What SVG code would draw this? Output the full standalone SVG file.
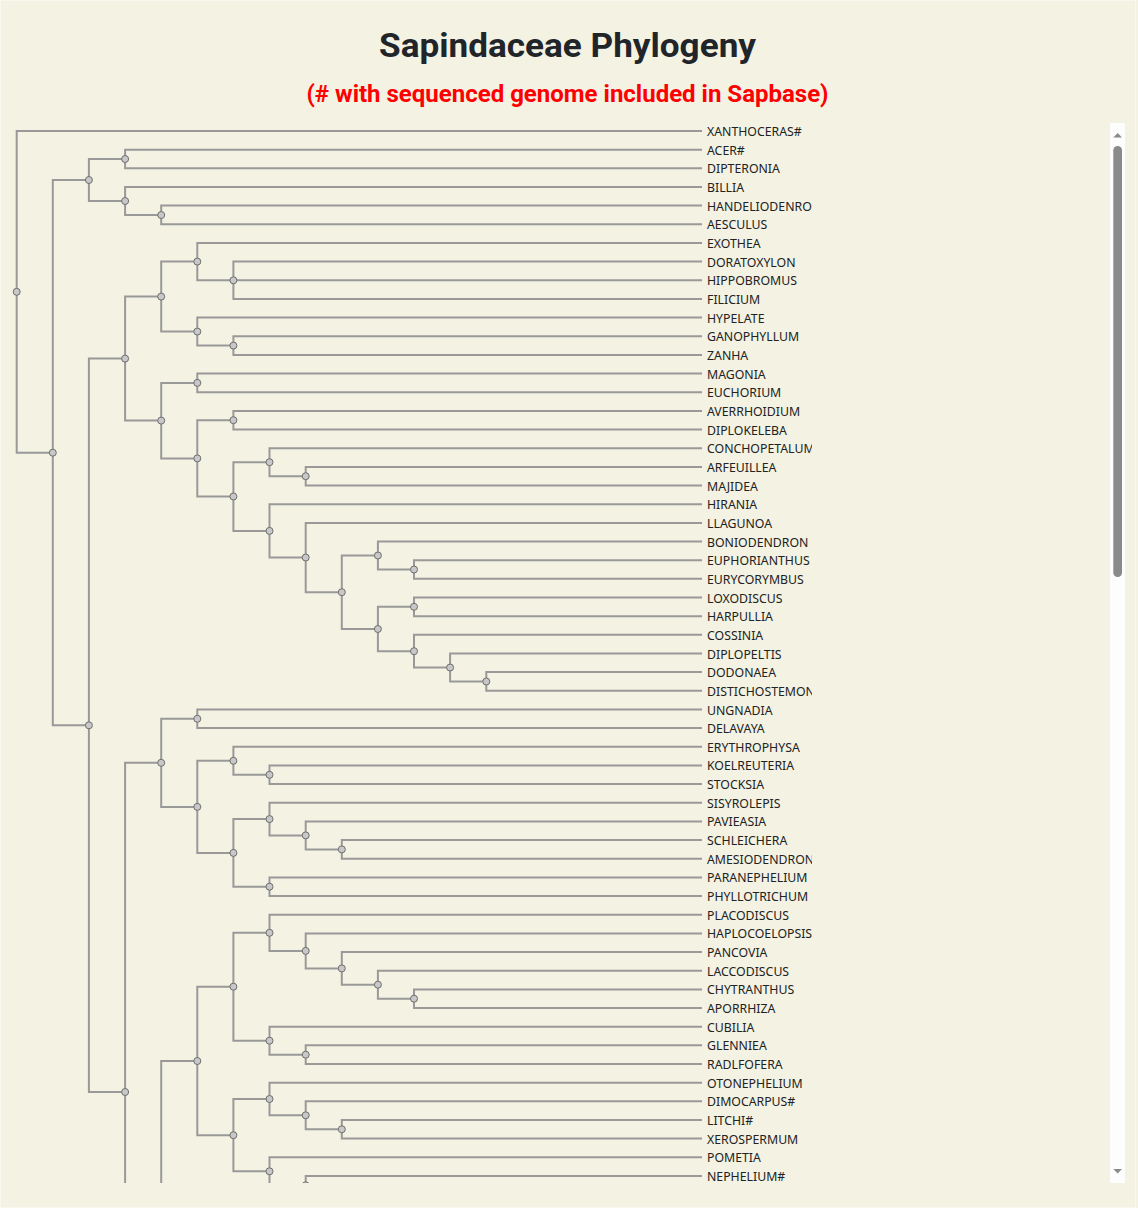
<svg xmlns="http://www.w3.org/2000/svg" width="1138" height="1208" viewBox="0 0 1138 1208">
<style>
.bg{fill:#f3f2e3}
.title{font-family:Roboto,"Liberation Sans",sans-serif;font-weight:700;font-size:34px;fill:#212529;text-anchor:middle}
.sub{font-family:Roboto,"Liberation Sans",sans-serif;font-weight:700;font-size:24px;fill:#ff0000;text-anchor:middle}
.lf{font-family:"Noto Sans","Open Sans","DejaVu Sans",sans-serif;font-size:12.3px;fill:#222}
.ln{fill:none;stroke:#999;stroke-width:2}
.nd{fill:#c8c8c8;stroke:#6e6e6e;stroke-width:1}
</style>
<defs>
<clipPath id="view"><rect x="0" y="122" width="812" height="1061"/></clipPath>
</defs>
<rect class="bg" x="0" y="0" width="1138" height="1208"/>
<rect x="0.5" y="0.5" width="1135" height="1207" fill="none" stroke="#f8f8ef" stroke-width="1"/>
<text class="title" x="567.5" y="57" textLength="377" lengthAdjust="spacingAndGlyphs">Sapindaceae Phylogeny</text>
<text class="sub" x="567.5" y="101.5">(# with sequenced genome included in Sapbase)</text>

<g clip-path="url(#view)">
<g id="connectors" class="ln">
<path d="M16.7,291.8 V131 H702"/>
<path d="M16.7,291.8 V452.7 H52.8"/>
<path d="M52.8,452.7 V180 H88.9"/>
<path d="M52.8,452.7 V725.3 H88.9"/>
<path d="M88.9,180 V159 H125.1"/>
<path d="M88.9,180 V201 H125.1"/>
<path d="M125.1,159 V149.7 H702"/>
<path d="M125.1,159 V168.3 H702"/>
<path d="M125.1,201 V187 H702"/>
<path d="M125.1,201 V215 H161.2"/>
<path d="M161.2,215 V205.6 H702"/>
<path d="M161.2,215 V224.3 H702"/>
<path d="M88.9,725.3 V358.6 H125.1"/>
<path d="M88.9,725.3 V1092 H125.1"/>
<path d="M125.1,358.6 V296.6 H161.2"/>
<path d="M125.1,358.6 V420.6 H161.2"/>
<path d="M161.2,296.6 V261.6 H197.3"/>
<path d="M161.2,296.6 V331.6 H197.3"/>
<path d="M197.3,261.6 V243 H702"/>
<path d="M197.3,261.6 V280.3 H233.4"/>
<path d="M233.4,280.3 V261.6 H702"/>
<path d="M233.4,280.3 H702"/>
<path d="M233.4,280.3 V298.9 H702"/>
<path d="M197.3,331.6 V317.6 H702"/>
<path d="M197.3,331.6 V345.6 H233.4"/>
<path d="M233.4,345.6 V336.3 H702"/>
<path d="M233.4,345.6 V354.9 H702"/>
<path d="M161.2,420.6 V382.9 H197.3"/>
<path d="M161.2,420.6 V458.4 H197.3"/>
<path d="M197.3,382.9 V373.6 H702"/>
<path d="M197.3,382.9 V392.2 H702"/>
<path d="M197.3,458.4 V420.2 H233.4"/>
<path d="M197.3,458.4 V496.5 H233.4"/>
<path d="M233.4,420.2 V410.9 H702"/>
<path d="M233.4,420.2 V429.6 H702"/>
<path d="M233.4,496.5 V462.2 H269.5"/>
<path d="M233.4,496.5 V530.9 H269.5"/>
<path d="M269.5,462.2 V448.2 H702"/>
<path d="M269.5,462.2 V476.2 H305.7"/>
<path d="M305.7,476.2 V466.9 H702"/>
<path d="M305.7,476.2 V485.5 H702"/>
<path d="M269.5,530.9 V504.2 H702"/>
<path d="M269.5,530.9 V557.5 H305.7"/>
<path d="M305.7,557.5 V522.9 H702"/>
<path d="M305.7,557.5 V592.2 H341.8"/>
<path d="M341.8,592.2 V555.5 H377.9"/>
<path d="M341.8,592.2 V629 H377.9"/>
<path d="M377.9,555.5 V541.5 H702"/>
<path d="M377.9,555.5 V569.5 H414"/>
<path d="M414,569.5 V560.2 H702"/>
<path d="M414,569.5 V578.8 H702"/>
<path d="M377.9,629 V606.8 H414"/>
<path d="M377.9,629 V651.2 H414"/>
<path d="M414,606.8 V597.5 H702"/>
<path d="M414,606.8 V616.2 H702"/>
<path d="M414,651.2 V634.8 H702"/>
<path d="M414,651.2 V667.5 H450.1"/>
<path d="M450.1,667.5 V653.5 H702"/>
<path d="M450.1,667.5 V681.5 H486.3"/>
<path d="M486.3,681.5 V672.1 H702"/>
<path d="M486.3,681.5 V690.8 H702"/>
<path d="M125.1,1092 V762.8 H161.2"/>
<path d="M125.1,1092 V1421.2 H161.2"/>
<path d="M161.2,762.8 V718.8 H197.3"/>
<path d="M161.2,762.8 V806.9 H197.3"/>
<path d="M197.3,718.8 V709.5 H702"/>
<path d="M197.3,718.8 V728.1 H702"/>
<path d="M197.3,806.9 V760.8 H233.4"/>
<path d="M197.3,806.9 V852.9 H233.4"/>
<path d="M233.4,760.8 V746.8 H702"/>
<path d="M233.4,760.8 V774.8 H269.5"/>
<path d="M269.5,774.8 V765.4 H702"/>
<path d="M269.5,774.8 V784.1 H702"/>
<path d="M233.4,852.9 V819.1 H269.5"/>
<path d="M233.4,852.9 V886.7 H269.5"/>
<path d="M269.5,819.1 V802.8 H702"/>
<path d="M269.5,819.1 V835.4 H305.7"/>
<path d="M305.7,835.4 V821.4 H702"/>
<path d="M305.7,835.4 V849.4 H341.8"/>
<path d="M341.8,849.4 V840.1 H702"/>
<path d="M341.8,849.4 V858.7 H702"/>
<path d="M269.5,886.7 V877.4 H702"/>
<path d="M269.5,886.7 V896.1 H702"/>
<path d="M161.2,1421.2 V1061 H197.3"/>
<path d="M161.2,1421.2 V1600"/>
<path d="M197.3,1061 V986.7 H233.4"/>
<path d="M197.3,1061 V1135.2 H233.4"/>
<path d="M233.4,986.7 V932.8 H269.5"/>
<path d="M233.4,986.7 V1040.7 H269.5"/>
<path d="M269.5,932.8 V914.7 H702"/>
<path d="M269.5,932.8 V950.9 H305.7"/>
<path d="M305.7,950.9 V933.4 H702"/>
<path d="M305.7,950.9 V968.4 H341.8"/>
<path d="M341.8,968.4 V952 H702"/>
<path d="M341.8,968.4 V984.7 H377.9"/>
<path d="M377.9,984.7 V970.7 H702"/>
<path d="M377.9,984.7 V998.7 H414"/>
<path d="M414,998.7 V989.4 H702"/>
<path d="M414,998.7 V1008 H702"/>
<path d="M269.5,1040.7 V1026.7 H702"/>
<path d="M269.5,1040.7 V1054.7 H305.7"/>
<path d="M305.7,1054.7 V1045.3 H702"/>
<path d="M305.7,1054.7 V1064 H702"/>
<path d="M233.4,1135.2 V1099 H269.5"/>
<path d="M233.4,1135.2 V1171.3 H269.5"/>
<path d="M269.5,1099 V1082.7 H702"/>
<path d="M269.5,1099 V1115.3 H305.7"/>
<path d="M305.7,1115.3 V1101.3 H702"/>
<path d="M305.7,1115.3 V1129.3 H341.8"/>
<path d="M341.8,1129.3 V1120 H702"/>
<path d="M341.8,1129.3 V1138.6 H702"/>
<path d="M269.5,1171.3 V1157.3 H702"/>
<path d="M269.5,1171.3 V1185.3 H305.7"/>
<path d="M305.7,1185.3 V1176 H702"/>
<path d="M305.7,1185.3 V1194.6 H702"/>
</g>

<g id="n-root"><circle class="nd" cx="16.7" cy="291.8" r="3.5"/></g>
<g id="n-a"><circle class="nd" cx="52.8" cy="452.7" r="3.5"/></g>
<g id="n-b"><circle class="nd" cx="88.9" cy="180" r="3.5"/></g>
<g id="n-acer-dipteronia"><circle class="nd" cx="125.1" cy="159" r="3.5"/></g>
<g id="n-billia"><circle class="nd" cx="125.1" cy="201" r="3.5"/></g>
<g id="n-handel-aesculus"><circle class="nd" cx="161.2" cy="215" r="3.5"/></g>
<g id="n-c"><circle class="nd" cx="88.9" cy="725.3" r="3.5"/></g>
<g id="n-d"><circle class="nd" cx="125.1" cy="358.6" r="3.5"/></g>
<g id="n-p1"><circle class="nd" cx="161.2" cy="296.6" r="3.5"/></g>
<g id="n-exothea"><circle class="nd" cx="197.3" cy="261.6" r="3.5"/></g>
<g id="n-doratoxylon"><circle class="nd" cx="233.4" cy="280.3" r="3.5"/></g>
<g id="n-hypelate"><circle class="nd" cx="197.3" cy="331.6" r="3.5"/></g>
<g id="n-ganophyllum"><circle class="nd" cx="233.4" cy="345.6" r="3.5"/></g>
<g id="n-u"><circle class="nd" cx="161.2" cy="420.6" r="3.5"/></g>
<g id="n-magonia"><circle class="nd" cx="197.3" cy="382.9" r="3.5"/></g>
<g id="n-t"><circle class="nd" cx="197.3" cy="458.4" r="3.5"/></g>
<g id="n-averrhoidium"><circle class="nd" cx="233.4" cy="420.2" r="3.5"/></g>
<g id="n-s"><circle class="nd" cx="233.4" cy="496.5" r="3.5"/></g>
<g id="n-conchopetalum"><circle class="nd" cx="269.5" cy="462.2" r="3.5"/></g>
<g id="n-arfeuillea"><circle class="nd" cx="305.7" cy="476.2" r="3.5"/></g>
<g id="n-hirania"><circle class="nd" cx="269.5" cy="530.9" r="3.5"/></g>
<g id="n-llagunoa"><circle class="nd" cx="305.7" cy="557.5" r="3.5"/></g>
<g id="n-r"><circle class="nd" cx="341.8" cy="592.2" r="3.5"/></g>
<g id="n-boniodendron"><circle class="nd" cx="377.9" cy="555.5" r="3.5"/></g>
<g id="n-euphorianthus"><circle class="nd" cx="414" cy="569.5" r="3.5"/></g>
<g id="n-q"><circle class="nd" cx="377.9" cy="629" r="3.5"/></g>
<g id="n-loxodiscus"><circle class="nd" cx="414" cy="606.8" r="3.5"/></g>
<g id="n-cossinia"><circle class="nd" cx="414" cy="651.2" r="3.5"/></g>
<g id="n-diplopeltis"><circle class="nd" cx="450.1" cy="667.5" r="3.5"/></g>
<g id="n-dodonaea"><circle class="nd" cx="486.3" cy="681.5" r="3.5"/></g>
<g id="n-e"><circle class="nd" cx="125.1" cy="1092" r="3.5"/></g>
<g id="n-x"><circle class="nd" cx="161.2" cy="762.8" r="3.5"/></g>
<g id="n-ungnadia"><circle class="nd" cx="197.3" cy="718.8" r="3.5"/></g>
<g id="n-w"><circle class="nd" cx="197.3" cy="806.9" r="3.5"/></g>
<g id="n-erythrophysa"><circle class="nd" cx="233.4" cy="760.8" r="3.5"/></g>
<g id="n-koelreuteria"><circle class="nd" cx="269.5" cy="774.8" r="3.5"/></g>
<g id="n-v"><circle class="nd" cx="233.4" cy="852.9" r="3.5"/></g>
<g id="n-sisyrolepis"><circle class="nd" cx="269.5" cy="819.1" r="3.5"/></g>
<g id="n-pavieasia"><circle class="nd" cx="305.7" cy="835.4" r="3.5"/></g>
<g id="n-schleichera"><circle class="nd" cx="341.8" cy="849.4" r="3.5"/></g>
<g id="n-paranephelium"><circle class="nd" cx="269.5" cy="886.7" r="3.5"/></g>
<g id="n-aa"><circle class="nd" cx="197.3" cy="1061" r="3.5"/></g>
<g id="n-y"><circle class="nd" cx="233.4" cy="986.7" r="3.5"/></g>
<g id="n-placodiscus"><circle class="nd" cx="269.5" cy="932.8" r="3.5"/></g>
<g id="n-haplocoelopsis"><circle class="nd" cx="305.7" cy="950.9" r="3.5"/></g>
<g id="n-pancovia"><circle class="nd" cx="341.8" cy="968.4" r="3.5"/></g>
<g id="n-laccodiscus"><circle class="nd" cx="377.9" cy="984.7" r="3.5"/></g>
<g id="n-chytranthus"><circle class="nd" cx="414" cy="998.7" r="3.5"/></g>
<g id="n-cubilia"><circle class="nd" cx="269.5" cy="1040.7" r="3.5"/></g>
<g id="n-glenniea"><circle class="nd" cx="305.7" cy="1054.7" r="3.5"/></g>
<g id="n-z"><circle class="nd" cx="233.4" cy="1135.2" r="3.5"/></g>
<g id="n-otonephelium"><circle class="nd" cx="269.5" cy="1099" r="3.5"/></g>
<g id="n-dimocarpus"><circle class="nd" cx="305.7" cy="1115.3" r="3.5"/></g>
<g id="n-litchi"><circle class="nd" cx="341.8" cy="1129.3" r="3.5"/></g>
<g id="n-pometia"><circle class="nd" cx="269.5" cy="1171.3" r="3.5"/></g>
<g id="n-nephelium"><circle class="nd" cx="305.7" cy="1185.3" r="3.5"/></g>

<g id="leaf-xanthoceras"><text class="lf" x="707" y="136">XANTHOCERAS#</text></g>
<g id="leaf-acer"><text class="lf" x="707" y="154.7">ACER#</text></g>
<g id="leaf-dipteronia"><text class="lf" x="707" y="173.3">DIPTERONIA</text></g>
<g id="leaf-billia"><text class="lf" x="707" y="192">BILLIA</text></g>
<g id="leaf-handeliodenron"><text class="lf" x="707" y="210.6">HANDELIODENRON</text></g>
<g id="leaf-aesculus"><text class="lf" x="707" y="229.3">AESCULUS</text></g>
<g id="leaf-exothea"><text class="lf" x="707" y="248">EXOTHEA</text></g>
<g id="leaf-doratoxylon"><text class="lf" x="707" y="266.6">DORATOXYLON</text></g>
<g id="leaf-hippobromus"><text class="lf" x="707" y="285.3">HIPPOBROMUS</text></g>
<g id="leaf-filicium"><text class="lf" x="707" y="303.9">FILICIUM</text></g>
<g id="leaf-hypelate"><text class="lf" x="707" y="322.6">HYPELATE</text></g>
<g id="leaf-ganophyllum"><text class="lf" x="707" y="341.3">GANOPHYLLUM</text></g>
<g id="leaf-zanha"><text class="lf" x="707" y="359.9">ZANHA</text></g>
<g id="leaf-magonia"><text class="lf" x="707" y="378.6">MAGONIA</text></g>
<g id="leaf-euchorium"><text class="lf" x="707" y="397.2">EUCHORIUM</text></g>
<g id="leaf-averrhoidium"><text class="lf" x="707" y="415.9">AVERRHOIDIUM</text></g>
<g id="leaf-diplokeleba"><text class="lf" x="707" y="434.6">DIPLOKELEBA</text></g>
<g id="leaf-conchopetalum"><text class="lf" x="707" y="453.2">CONCHOPETALUM</text></g>
<g id="leaf-arfeuillea"><text class="lf" x="707" y="471.9">ARFEUILLEA</text></g>
<g id="leaf-majidea"><text class="lf" x="707" y="490.5">MAJIDEA</text></g>
<g id="leaf-hirania"><text class="lf" x="707" y="509.2">HIRANIA</text></g>
<g id="leaf-llagunoa"><text class="lf" x="707" y="527.9">LLAGUNOA</text></g>
<g id="leaf-boniodendron"><text class="lf" x="707" y="546.5">BONIODENDRON</text></g>
<g id="leaf-euphorianthus"><text class="lf" x="707" y="565.2">EUPHORIANTHUS</text></g>
<g id="leaf-eurycorymbus"><text class="lf" x="707" y="583.8">EURYCORYMBUS</text></g>
<g id="leaf-loxodiscus"><text class="lf" x="707" y="602.5">LOXODISCUS</text></g>
<g id="leaf-harpullia"><text class="lf" x="707" y="621.2">HARPULLIA</text></g>
<g id="leaf-cossinia"><text class="lf" x="707" y="639.8">COSSINIA</text></g>
<g id="leaf-diplopeltis"><text class="lf" x="707" y="658.5">DIPLOPELTIS</text></g>
<g id="leaf-dodonaea"><text class="lf" x="707" y="677.1">DODONAEA</text></g>
<g id="leaf-distichostemon"><text class="lf" x="707" y="695.8">DISTICHOSTEMON</text></g>
<g id="leaf-ungnadia"><text class="lf" x="707" y="714.5">UNGNADIA</text></g>
<g id="leaf-delavaya"><text class="lf" x="707" y="733.1">DELAVAYA</text></g>
<g id="leaf-erythrophysa"><text class="lf" x="707" y="751.8">ERYTHROPHYSA</text></g>
<g id="leaf-koelreuteria"><text class="lf" x="707" y="770.4">KOELREUTERIA</text></g>
<g id="leaf-stocksia"><text class="lf" x="707" y="789.1">STOCKSIA</text></g>
<g id="leaf-sisyrolepis"><text class="lf" x="707" y="807.8">SISYROLEPIS</text></g>
<g id="leaf-pavieasia"><text class="lf" x="707" y="826.4">PAVIEASIA</text></g>
<g id="leaf-schleichera"><text class="lf" x="707" y="845.1">SCHLEICHERA</text></g>
<g id="leaf-amesiodendron"><text class="lf" x="707" y="863.7">AMESIODENDRON</text></g>
<g id="leaf-paranephelium"><text class="lf" x="707" y="882.4">PARANEPHELIUM</text></g>
<g id="leaf-phyllotrichum"><text class="lf" x="707" y="901.1">PHYLLOTRICHUM</text></g>
<g id="leaf-placodiscus"><text class="lf" x="707" y="919.7">PLACODISCUS</text></g>
<g id="leaf-haplocoelopsis"><text class="lf" x="707" y="938.4">HAPLOCOELOPSIS</text></g>
<g id="leaf-pancovia"><text class="lf" x="707" y="957">PANCOVIA</text></g>
<g id="leaf-laccodiscus"><text class="lf" x="707" y="975.7">LACCODISCUS</text></g>
<g id="leaf-chytranthus"><text class="lf" x="707" y="994.4">CHYTRANTHUS</text></g>
<g id="leaf-aporrhiza"><text class="lf" x="707" y="1013">APORRHIZA</text></g>
<g id="leaf-cubilia"><text class="lf" x="707" y="1031.7">CUBILIA</text></g>
<g id="leaf-glenniea"><text class="lf" x="707" y="1050.3">GLENNIEA</text></g>
<g id="leaf-radlfofera"><text class="lf" x="707" y="1069">RADLFOFERA</text></g>
<g id="leaf-otonephelium"><text class="lf" x="707" y="1087.7">OTONEPHELIUM</text></g>
<g id="leaf-dimocarpus"><text class="lf" x="707" y="1106.3">DIMOCARPUS#</text></g>
<g id="leaf-litchi"><text class="lf" x="707" y="1125">LITCHI#</text></g>
<g id="leaf-xerospermum"><text class="lf" x="707" y="1143.6">XEROSPERMUM</text></g>
<g id="leaf-pometia"><text class="lf" x="707" y="1162.3">POMETIA</text></g>
<g id="leaf-nephelium"><text class="lf" x="707" y="1181">NEPHELIUM#</text></g>
</g>

<g id="scrollbar">
<rect x="1110" y="123" width="15" height="1060" fill="#fdfdfd"/>
<rect x="1113.3" y="146" width="8.7" height="431" rx="4.3" fill="#8a8a8a"/>
<path d="M1113.3,137.5 L1117.7,133 L1122,137.5 Z" fill="#8a8a8a"/>
<path d="M1113.3,1169 L1122,1169 L1117.7,1173.5 Z" fill="#8a8a8a"/>
</g>
</svg>
